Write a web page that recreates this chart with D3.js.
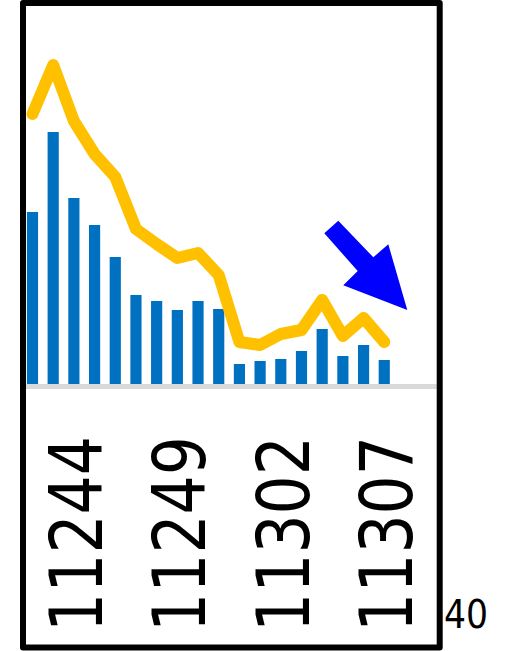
<!DOCTYPE html>
<html>
<head>
<meta charset="utf-8">
<script src="https://cdn.jsdelivr.net/npm/d3@7.9.0/dist/d3.min.js"></script>
<style>
  body { margin: 0; background: #fff; }
  svg { display: block; font-family: "DejaVu Sans", sans-serif; }
</style>
</head>
<body>
<svg id="chart" width="505" height="651"></svg>
<script>
// week codes (ROC year + week)
const weeks = ["11242","11243","11244","11245","11246","11247","11248","11249","11250",
               "11251","11252","11301","11302","11303","11304","11305","11306","11307"];
// bar series
const barValues = [172, 252, 186, 159, 127, 89, 83, 74, 83, 75, 20, 23, 25, 33, 55, 28, 39, 24];
// line series
const lineValues = [270, 319, 263, 230, 207, 155, 140, 126, 131, 109, 42, 39, 50, 54, 84, 48, 66, 42];
// only every 5th week gets a label
const tickWeeks = weeks.filter((d, i) => i % 5 === 2);
const cornerLabel = "40";

const svg = d3.select('#chart');

// frame box
const box = { x: 23, y: 3, w: 416.7, h: 644.5 };

svg.append('defs').append('clipPath').attr('id', 'clip')
  .append('rect')
  .attr('x', box.x + 3).attr('y', box.y + 3)
  .attr('width', box.w - 6).attr('height', box.h - 6);

svg.append('rect')
  .attr('x', box.x).attr('y', box.y)
  .attr('width', box.w).attr('height', box.h)
  .attr('fill', '#fff');

const x = d3.scaleBand()
  .domain(weeks)
  .range([22.15, 394.6])
  .paddingInner(0.46)
  .paddingOuter(0.23);

const y = d3.scaleLinear().domain([0, 320]).range([384, 64]);

const plot = svg.append('g').attr('clip-path', 'url(#clip)');

// baseline
plot.append('line')
  .attr('x1', box.x).attr('x2', box.x + box.w)
  .attr('y1', 386.5).attr('y2', 386.5)
  .attr('stroke', '#d9d9d9').attr('stroke-width', 5);

plot.selectAll('rect.bar')
  .data(barValues)
  .join('rect')
  .attr('class', 'bar')
  .attr('x', (d, i) => x(weeks[i]))
  .attr('width', x.bandwidth())
  .attr('y', d => y(d))
  .attr('height', d => y(0) - y(d))
  .attr('fill', '#0070c0');

const line = d3.line()
  .x((d, i) => x(weeks[i]) + x.bandwidth() / 2)
  .y(d => y(d));

plot.append('path')
  .datum(lineValues)
  .attr('d', line)
  .attr('fill', 'none')
  .attr('stroke', '#ffc000')
  .attr('stroke-width', 12)
  .attr('stroke-linejoin', 'round')
  .attr('stroke-linecap', 'round');

// trend arrow annotation
const arrowPts = [[338.3, 220.7], [373.3, 257.3], [388.3, 244.3], [407.3, 310],
                  [343.3, 285.3], [357.7, 271], [324.3, 233.3]];
plot.append('polygon')
  .attr('points', arrowPts.map(p => p.join(',')).join(' '))
  .attr('fill', '#0000ff');

// x axis with rotated labels
const axis = plot.append('g')
  .attr('transform', 'translate(0,386)')
  .call(d3.axisBottom(x).tickValues(tickWeeks).tickSize(0));
axis.select('.domain').remove();
axis.selectAll('text')
  .attr('transform', 'rotate(-90)')
  .attr('text-anchor', 'end')
  .attr('x', -50)
  .attr('y', 27.8)
  .attr('dy', 0)
  .attr('fill', '#000')
  .attr('font-family', '"DejaVu Sans", sans-serif')
  .attr('font-size', 73)
  .attr('textLength', 196)
  .attr('lengthAdjust', 'spacingAndGlyphs');

// frame border
svg.append('rect')
  .attr('x', box.x).attr('y', box.y)
  .attr('width', box.w).attr('height', box.h)
  .attr('fill', 'none')
  .attr('stroke', '#000')
  .attr('stroke-width', 6)
  .attr('stroke-linejoin', 'round');

svg.append('text')
  .attr('x', 444)
  .attr('y', 628.3)
  .attr('font-size', 38.5)
  .attr('textLength', 44)
  .attr('lengthAdjust', 'spacingAndGlyphs')
  .text(cornerLabel);
</script>
</body>
</html>
